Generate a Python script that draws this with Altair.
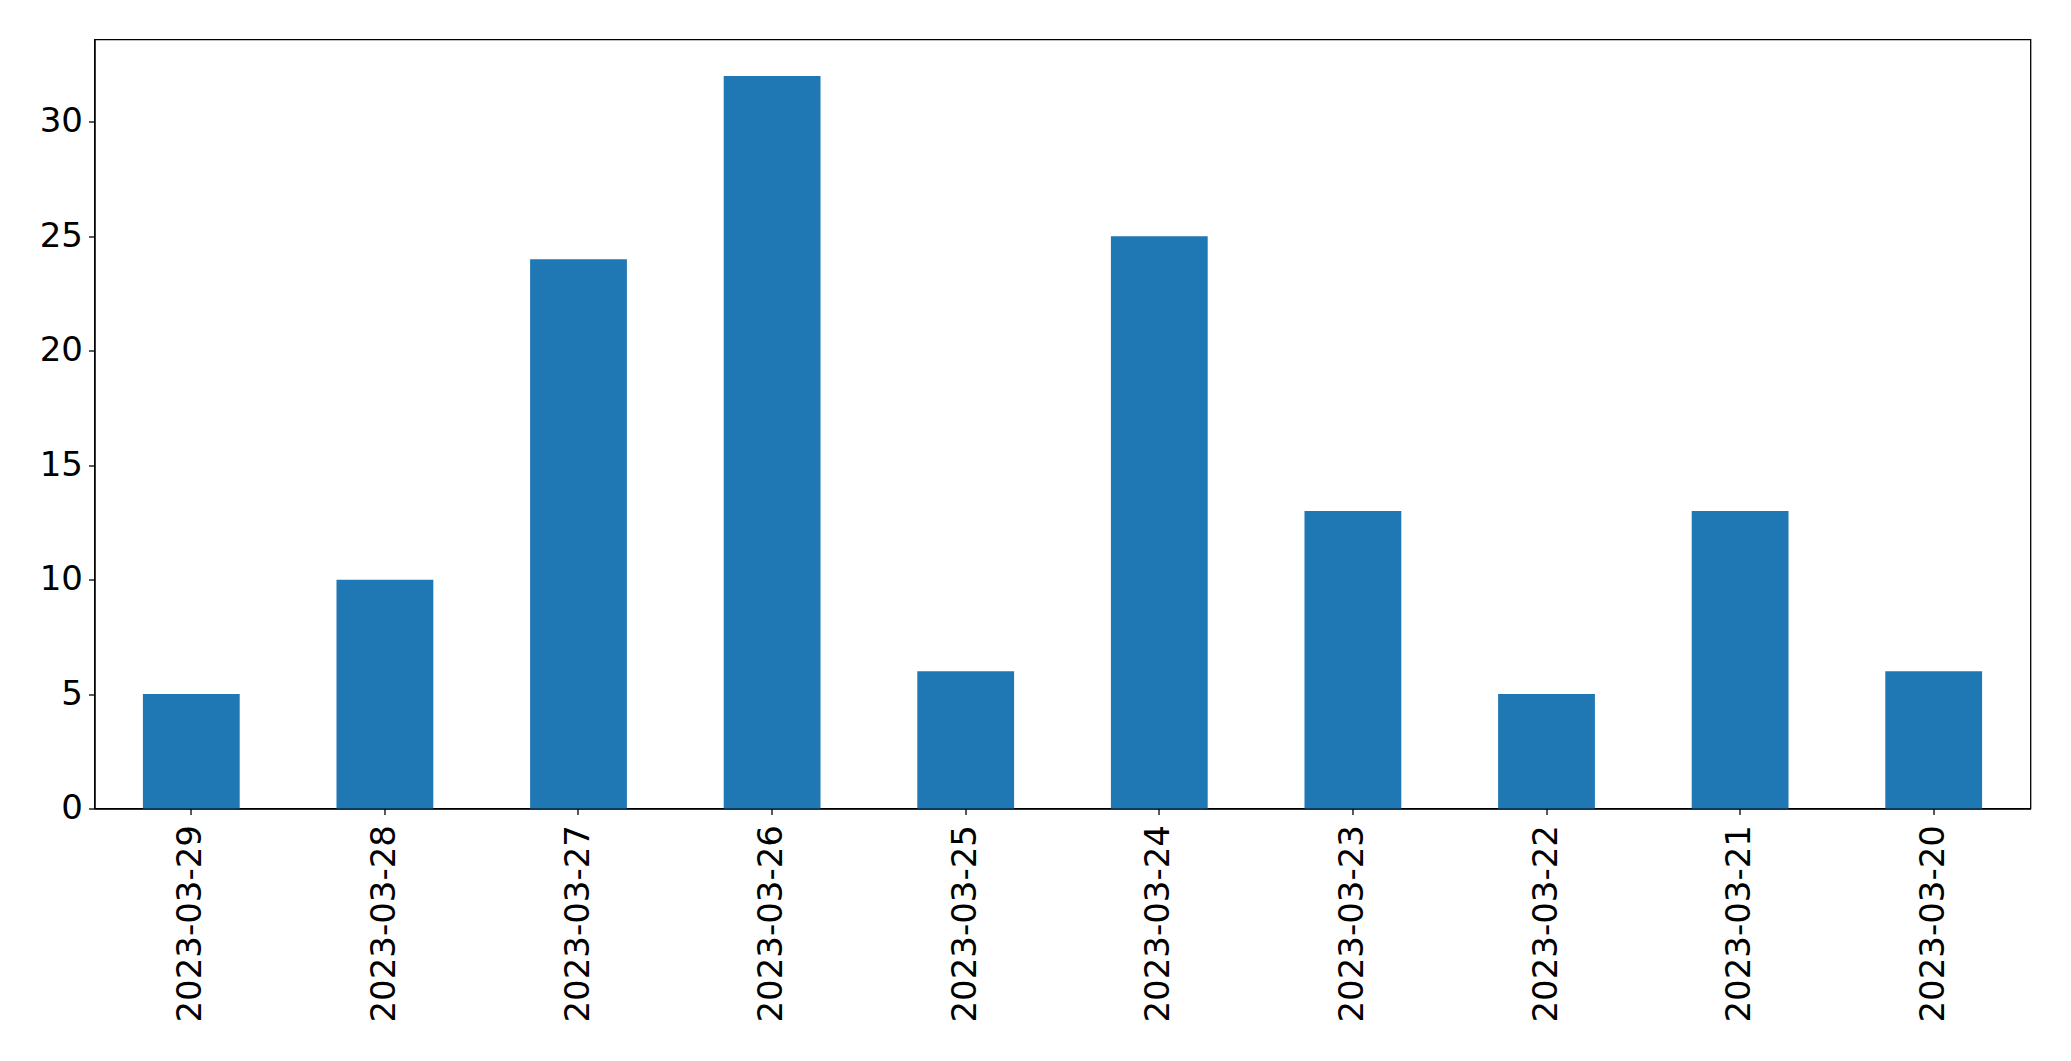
import altair as alt
import pandas as pd

dates = ["2023-03-29", "2023-03-28", "2023-03-27", "2023-03-26", "2023-03-25",
         "2023-03-24", "2023-03-23", "2023-03-22", "2023-03-21", "2023-03-20"]
counts = [5, 10, 24, 32, 6, 25, 13, 5, 13, 6]
y_ticks = [0, 5, 10, 15, 20, 25, 30]

df = pd.DataFrame({"date": dates, "count": counts})

chart = alt.Chart(df).mark_bar(color="#1f77b4").encode(
    x=alt.X("date:N", sort=dates, title=None,
            scale=alt.Scale(paddingInner=0.5, paddingOuter=0.25),
            axis=alt.Axis(labelAngle=-90, labelFont="DejaVu Sans", labelFontSize=34,
                          labelColor="black", tickColor="black", tickSize=6,
                          tickWidth=1.3, domainColor="black", domainWidth=1.3,
                          labelPadding=10, labelLimit=0)),
    y=alt.Y("count:Q", title=None,
            scale=alt.Scale(domain=[0, 33.6], nice=False, zero=True),
            axis=alt.Axis(values=y_ticks, grid=False, labelFont="DejaVu Sans",
                          labelFontSize=34, labelColor="black", tickColor="black",
                          tickSize=6, tickWidth=1.3, domainColor="black",
                          domainWidth=1.3, labelPadding=6)),
).properties(
    width=1936, height=769,
    autosize=alt.AutoSizeParams(type="none"),
    padding={"left": 86.5, "top": 31.5, "right": 30, "bottom": 240},
    background="white",
).configure_view(stroke="black", strokeWidth=1.3)

chart.save("out.html", embed_options={"renderer": "svg", "actions": False})
